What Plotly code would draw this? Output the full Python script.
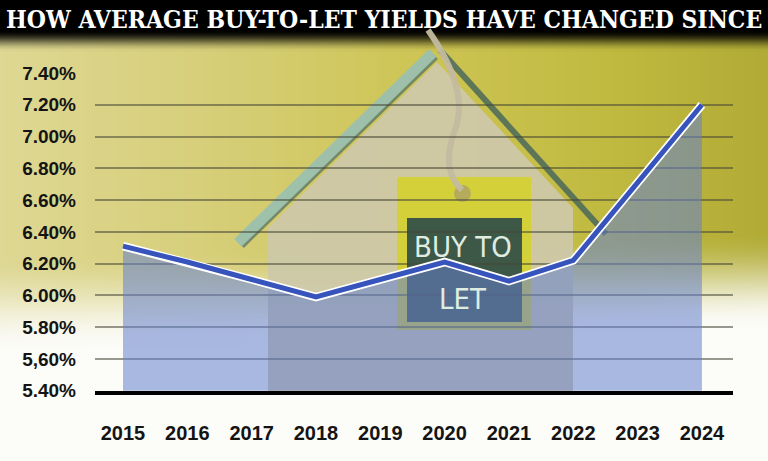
import zlib, struct, base64
import plotly.graph_objects as go

# ---- data ----
years = [2015, 2016, 2017, 2018, 2019, 2020, 2021, 2022, 2023, 2024]
yields = [6.31, 6.21, 6.10, 5.99, 6.10, 6.21, 6.09, 6.22, 6.71, 7.20]
y_ticks = [5.40, 5.60, 5.80, 6.00, 6.20, 6.40, 6.60, 6.80, 7.00, 7.20, 7.40]
y_tick_labels = ["5.40%", "5,60%", "5.80%", "6.00%", "6.20%", "6.40%",
                 "6.60%", "6.80%", "7.00%", "7.20%", "7.40%"]
x_tick_labels = [str(y) for y in years]
title_text = "HOW AVERAGE BUY-TO-LET YIELDS HAVE CHANGED SINCE"

W, H = 768, 461


def px(x):
    return x / W


def py(y):
    return 1 - y / H


# ---- background picture (gradient stand-in for the photo) ----
def lerp(a, b, t):
    return tuple(a[i] + (b[i] - a[i]) * t for i in range(3))


def top_colour(u):
    stops = [(0.0, (222, 216, 148)), (0.3, (214, 206, 118)), (0.55, (206, 197, 84)),
             (0.8, (192, 186, 64)), (1.0, (178, 172, 55))]
    for i in range(len(stops) - 1):
        u0, c0 = stops[i]
        u1, c1 = stops[i + 1]
        if u <= u1:
            return lerp(c0, c1, (u - u0) / (u1 - u0))
    return stops[-1][1]


def bg_pixel(X, Y):
    u = X / W
    c = top_colour(u)
    s = 255 - 25 * u
    t = min(1.0, max(0.0, (Y - s) / 95.0))
    t = t * t * (3 - 2 * t)
    c = lerp(c, (252, 252, 248), t)
    if Y <= 29:
        return (0, 0, 0)
    if Y < 50:
        k = (Y - 29) / 21.0
        k = k * k * (3 - 2 * k)
        c = lerp((0, 0, 0), c, k)
    return tuple(int(max(0, min(255, v))) for v in c)


def png_uri(w, h, step):
    rows = []
    for j in range(h):
        row = bytearray(b"\x00")
        for i in range(w):
            row.extend(bg_pixel(i * step, j * step))
        rows.append(bytes(row))
    raw = b"".join(rows)

    def chunk(t, d):
        return struct.pack(">I", len(d)) + t + d + struct.pack(">I", zlib.crc32(t + d) & 0xffffffff)

    png = (b"\x89PNG\r\n\x1a\n"
           + chunk(b"IHDR", struct.pack(">IIBBBBB", w, h, 8, 2, 0, 0, 0))
           + chunk(b"IDAT", zlib.compress(raw, 9))
           + chunk(b"IEND", b""))
    return "data:image/png;base64," + base64.b64encode(png).decode()


step = 3
bg_src = png_uri(W // step + 1, H // step + 1, step)

fig = go.Figure()

# area
fig.add_trace(go.Scatter(x=years, y=yields, mode="lines", fill="tozeroy",
                         fillcolor="rgba(100,128,205,0.55)",
                         line=dict(width=0, color="rgba(0,0,0,0)"),
                         hoverinfo="skip", showlegend=False))
# white outline
fig.add_trace(go.Scatter(x=years, y=yields, mode="lines",
                         line=dict(width=8.5, color="white"),
                         hoverinfo="skip", showlegend=False))
# blue line
fig.add_trace(go.Scatter(x=years, y=yields, mode="lines",
                         line=dict(width=5, color="#3654bb"),
                         showlegend=False))

# ---- decorative house (stand-in for the photo) ----
def path(points):
    return "M " + " L ".join(f"{px(x)},{py(y)}" for x, y in points) + " Z"


shapes = []
# wall
shapes.append(dict(type="path", xref="paper", yref="paper", layer="below",
                   path=path([(268, 228), (437, 62), (573, 208), (573, 391), (268, 391)]),
                   fillcolor="rgba(205,200,168,0.95)", line=dict(width=0)))
# left roof
shapes.append(dict(type="line", xref="paper", yref="paper", layer="below",
                   x0=px(238), y0=py(243), x1=px(433), y1=py(53),
                   line=dict(color="rgba(155,192,175,0.95)", width=11)))
shapes.append(dict(type="line", xref="paper", yref="paper", layer="below",
                   x0=px(243), y0=py(247), x1=px(437), y1=py(58),
                   line=dict(color="rgba(95,120,100,0.8)", width=2.5)))
# right roof
shapes.append(dict(type="line", xref="paper", yref="paper", layer="below",
                   x0=px(440), y0=py(50), x1=px(606), y1=py(234),
                   line=dict(color="rgba(75,105,90,0.85)", width=6)))
# tag
shapes.append(dict(type="rect", xref="paper", yref="paper", layer="below",
                   x0=px(397), y0=py(330), x1=px(531), y1=py(177),
                   fillcolor="rgb(212,208,58)", line=dict(width=0)))
shapes.append(dict(type="circle", xref="paper", yref="paper", layer="below",
                   x0=px(454), y0=py(202), x1=px(471), y1=py(185),
                   fillcolor="rgb(180,172,90)", line=dict(width=0)))
shapes.append(dict(type="rect", xref="paper", yref="paper", layer="below",
                   x0=px(407), y0=py(322), x1=px(522), y1=py(218),
                   fillcolor="rgb(62,88,72)", line=dict(width=0)))
# rope
shapes.append(dict(type="path", xref="paper", yref="paper", layer="below",
                   path=f"M {px(428)},{py(30)} Q {px(470)},{py(90)} {px(455)},{py(130)} T {px(462)},{py(190)}",
                   line=dict(color="rgba(195,186,160,0.95)", width=6)))

annotations = [
    dict(text="BUY TO", x=px(463), y=py(247), xref="paper", yref="paper",
         showarrow=False, font=dict(family="DejaVu Sans Condensed, Liberation Sans Narrow",
                                    size=29, color="rgb(222,236,226)")),
    dict(text="LET", x=px(463), y=py(299), xref="paper", yref="paper",
         showarrow=False, font=dict(family="DejaVu Sans Condensed, Liberation Sans Narrow",
                                    size=29, color="rgb(222,236,226)")),
    dict(text=title_text, x=px(384), y=py(19), xref="paper", yref="paper",
         showarrow=False, xanchor="center", yanchor="middle",
         font=dict(family="DejaVu Serif Condensed, DejaVu Serif", size=24.5,
                   color="white", weight="bold")),
]

fig.update_layout(
    template="none",
    width=W, height=H, autosize=False,
    margin=dict(l=0, r=0, t=0, b=0, pad=0),
    paper_bgcolor="white",
    plot_bgcolor="rgba(0,0,0,0)",
    images=[dict(source=bg_src, xref="paper", yref="paper", x=0, y=1,
                 sizex=1, sizey=1, xanchor="left", yanchor="top",
                 sizing="stretch", layer="below")],
    shapes=shapes,
    annotations=annotations,
    xaxis=dict(domain=[px(95), px(733)], range=[2014.565, 2024.483],
               automargin=False,
               tickvals=years, ticktext=x_tick_labels, showgrid=False,
               zeroline=False, showline=True, linecolor="black", linewidth=4,
               ticks="", ticklabelstandoff=21,
               tickfont=dict(family="Liberation Sans, Arial", size=20,
                             color="#141414", weight="bold")),
    yaxis=dict(domain=[1 - 390.7 / H, 1 - 73 / H], range=[5.40, 7.40],
               automargin=False,
               tickvals=y_ticks, ticktext=y_tick_labels, showgrid=True,
               gridcolor="rgba(70,70,55,0.55)", gridwidth=1.5,
               zeroline=False, showline=False, ticks="",
               ticklabelstandoff=18,
               tickfont=dict(family="Liberation Sans, Arial", size=19,
                             color="#141414", weight="bold")),
)

post = ("document.documentElement.style.margin='0';"
        "document.body.style.margin='0';"
        "document.body.style.padding='0';"
        "document.documentElement.style.overflow='hidden';"
        "document.body.style.overflow='hidden';")

fig.write_html("out.html", post_script=post, config={"displayModeBar": False})
